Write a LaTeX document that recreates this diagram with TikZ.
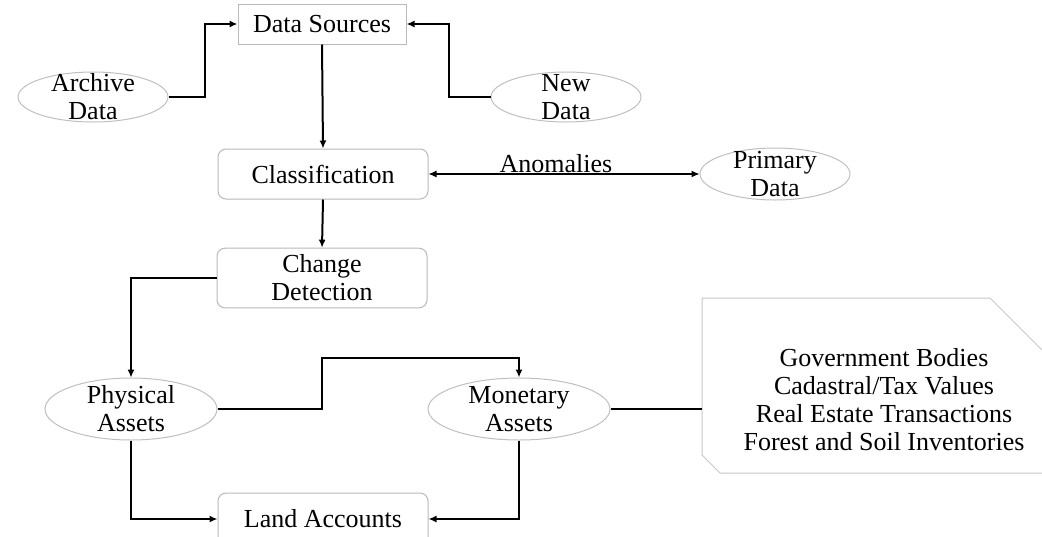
\documentclass[tikz,border=0pt]{standalone}
\usepackage{fontspec}
\setmainfont{Liberation Serif}
\usetikzlibrary{shapes.geometric,arrows.meta}

\begin{document}
\begin{tikzpicture}[
  x=0.5pt, y=-0.5pt,
  font=\fontsize{13}{14}\selectfont,
  box/.style={draw=gray!55, line width=0.5pt, minimum width=84pt, minimum height=20pt},
  rbox/.style={box, rounded corners=4pt, minimum width=105pt, minimum height=25pt, align=center},
  oval/.style={ellipse, draw=gray!50, line width=0.5pt, minimum width=75pt, minimum height=25pt, inner sep=-4pt, align=center},
  e/.style={line width=1pt, -{Latex[length=4pt,width=3.5pt]}},
  thin/.style={line width=0.6pt}
]
\clip (0,0) rectangle (1042,536);
\useasboundingbox (0,0) rectangle (1042,536);

\node[box] (ds) at (322,24) {Data Sources};
\node[oval] (arch) at (93,97) {Archive\\Data};
\node[oval] (new) at (566,97) {New\\Data};
\node[rbox] (cls) at (323,174) {Classification};
\node[oval, minimum height=26pt] (prim) at (775,174) {Primary\\Data};
\node[rbox, minimum height=26pt] (chg) at (322,278) {Change\\Detection};
\node[oval, minimum width=86pt, minimum height=31pt] (phys) at (131,409) {Physical\\Assets};
\node[oval, minimum width=91pt, minimum height=31pt] (mon) at (519,409) {Monetary\\Assets};
\node[rbox, minimum height=26pt] (land) at (323,519) {Land Accounts};

% snipped box on the right
\draw[draw=gray!45, line width=0.5pt] (702,298) -- (990,298) -- (1080,388) -- (1080,473)
  -- (720,473) -- (702,455) -- cycle;
\coordinate (infoL) at (702,409);
\node[align=center] (info) at (884,400) {Government Bodies\\Cadastral/Tax Values\\Real Estate Transactions\\Forest and Soil Inventories};

\draw[e] (arch.east) -- ++(36,0) |- (ds.west);
\draw[e] (new.west) -- ++(-42,0) |- (ds.east);
\draw[e] (ds.south) -- (cls.north);
\draw[thin, {Latex[length=4pt,width=3.5pt]}-{Latex[length=4pt,width=3.5pt]}] (cls.east) -- node[above, inner sep=0.5pt, pos=0.47] (anom) {Anomalies} (prim.west);
\draw[e] (cls.south) -- (chg.north);
\draw[thin, -{Latex[length=4pt,width=3.5pt]}] (chg.west) -| (phys.north);
\coordinate (k) at (322,358);
\draw[e] (phys.east) -| (k) -| (mon.north);
\draw[e] (phys.south) |- (land.west);
\draw[e] (mon.south) |- (land.east);
\draw[thin] (mon.east) -- (infoL);
\end{tikzpicture}
\end{document}
